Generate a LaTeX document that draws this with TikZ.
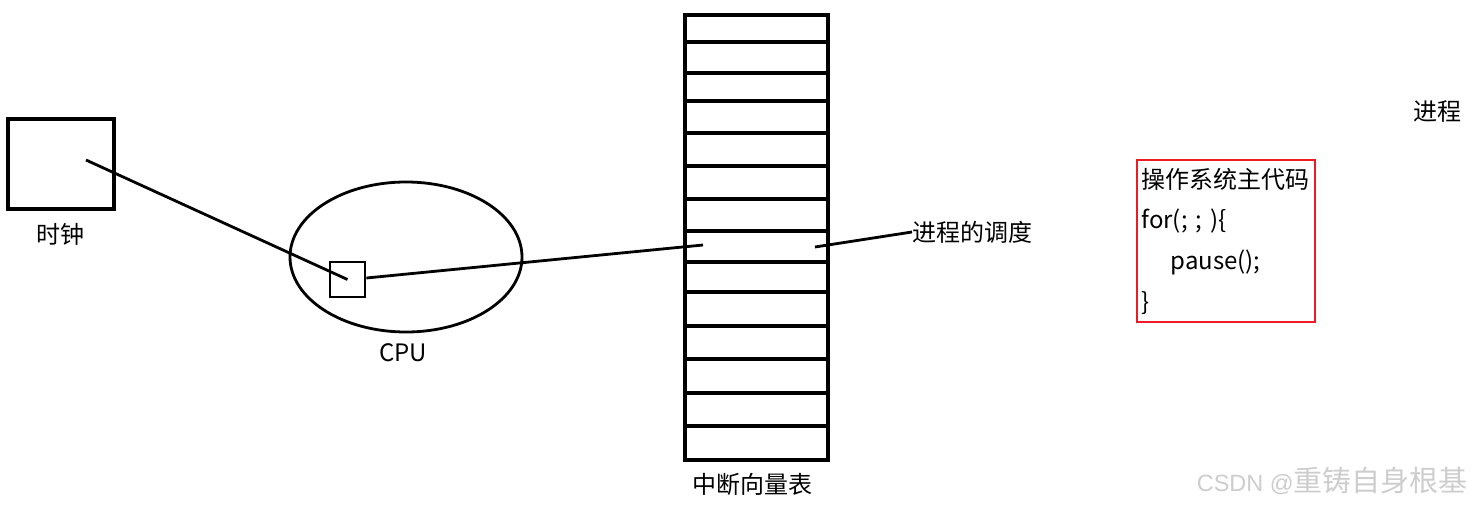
\documentclass[tikz,border=0pt]{standalone}
\usepackage{fontspec}
\setmainfont{Noto Sans CJK SC}
\newfontfamily\wmlatin{Liberation Sans}
\usetikzlibrary{shapes.geometric}
\definecolor{boxred}{RGB}{237,28,36}
\definecolor{wm}{RGB}{205,205,205}
\tikzset{
  thin line/.style={line width=2.8pt, black},
  tblline/.style={line width=3.8pt, black},
  lbl/.style={inner sep=0pt, font=\fontsize{24}{28}\selectfont},
}
\begin{document}
\begin{tikzpicture}[x=1pt,y=-1pt]
\useasboundingbox (0,0) rectangle (1472,506);
% clock
\node[draw, line width=3.2pt, minimum width=106pt, minimum height=90pt, inner sep=0pt] (clock) at (61,164) {};
\node[lbl] (clocklbl) at (60,234) {时钟};
\coordinate (clockpt) at (86,160);
% CPU
\node[draw, ellipse, line width=2.8pt, minimum width=232pt, minimum height=150pt, inner sep=0pt] (cpu) at (406,257) {};
\node[draw, line width=2.8pt, minimum width=35pt, minimum height=35pt, inner sep=0pt] (reg) at (347.5,279.5) {};
\node[lbl] (cpulbl) at (403,353) {CPU};
\draw[thin line] (clockpt) -- (reg.center);
% interrupt vector table
\node[draw, line width=3.8pt, minimum width=143pt, minimum height=445pt, inner sep=0pt, anchor=north west] (ivt) at (683,13) {};
\foreach \y in {42,73,101,133,166,199,231,262,292,326,359,393,426} {
  \draw[tblline] (683,\y) -- (826,\y);
}
\node[lbl] (ivtlbl) at (752,484) {中断向量表};
\coordinate (entryL) at (703,245);
\coordinate (entryR) at (815,247);
\draw[thin line] (reg.east |- 0,278) -- (entryL);
\node[lbl, anchor=west] (sched) at (912,232) {进程的调度};
\draw[thin line] (entryR) -- (sched.west);
% process
\node[lbl, anchor=west] (proc) at (1413,112) {进程};
% OS main code box
\node[draw=boxred, line width=2.8pt, minimum width=178pt, minimum height=162pt, text width=169pt, inner xsep=4.5pt, inner ysep=0pt, align=left, font=\fontsize{24}{40.7}\selectfont] (os) at (1226,241)
  {操作系统主代码\\for(; ; )\{\\\hspace*{29pt}pause();\\\}};
% watermark
\node[inner sep=0pt, anchor=east, text=wm, font=\fontsize{29}{32}\selectfont] (wmk) at (1468,481) {{\wmlatin\fontsize{23.5}{26}\selectfont CSDN @}重铸自身根基};
\end{tikzpicture}
\end{document}
